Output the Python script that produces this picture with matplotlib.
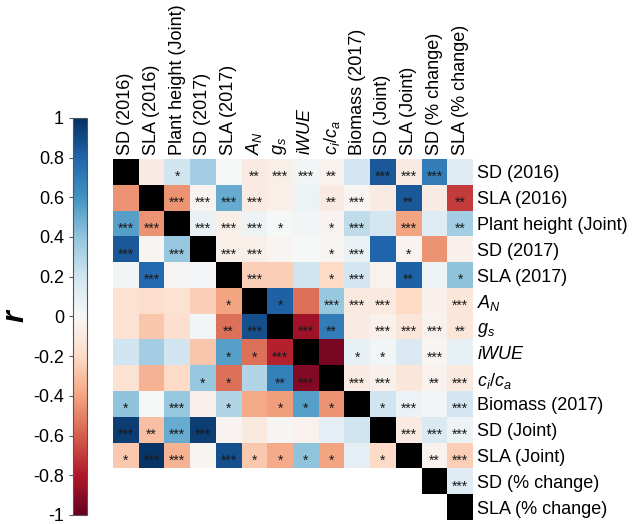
import numpy as np
import matplotlib
matplotlib.use('Agg')
import matplotlib.pyplot as plt
from matplotlib.colors import ListedColormap

plt.rcParams['font.family'] = ['Liberation Sans', 'DejaVu Sans']
plt.rcParams['mathtext.fontset'] = 'custom'
plt.rcParams['mathtext.rm'] = 'Liberation Sans'
plt.rcParams['mathtext.it'] = 'Liberation Sans:italic'
plt.rcParams['axes.unicode_minus'] = False

# trait names (rows and columns share the same order)
traits = ['SD (2016)', 'SLA (2016)', 'Plant height (Joint)', 'SD (2017)', 'SLA (2017)',
          r'$A_N$', r'$g_s$', r'$iWUE$', r'$c_i/c_a$', 'Biomass (2017)',
          'SD (Joint)', 'SLA (Joint)', 'SD (% change)', 'SLA (% change)']

nan = np.nan
# correlation coefficients, diagonal = 1 (drawn black), nan = empty cell
r_values = [
    [1, -0.08, 0.20, 0.35, 0.00, -0.08, -0.06, 0.03, -0.04, 0.18, 0.85, -0.08, 0.70, 0.12],
    [-0.45, 1, -0.45, -0.03, 0.50, -0.08, -0.06, 0.05, -0.08, -0.02, -0.08, 0.85, -0.08, -0.70],
    [0.55, -0.45, 1, 0.07, -0.06, 0.05, 0.00, 0.03, -0.03, 0.25, 0.18, -0.40, 0.12, 0.35],
    [0.85, -0.02, 0.38, 1, -0.06, -0.06, -0.02, 0.00, -0.02, 0.07, 0.80, -0.03, -0.45, -0.05],
    [0.03, 0.78, -0.01, 0.02, 1, -0.25, -0.25, 0.20, -0.20, 0.18, -0.04, 0.82, 0.05, 0.40],
    [-0.15, -0.18, -0.15, -0.25, -0.40, 1, 0.82, -0.55, 0.38, -0.10, -0.10, -0.20, -0.05, -0.12],
    [-0.15, -0.28, -0.17, 0.03, -0.55, 0.88, 1, -0.85, 0.70, -0.08, -0.05, -0.12, -0.04, -0.12],
    [0.20, 0.35, 0.20, -0.28, 0.55, -0.55, -0.78, 1, -0.95, 0.08, 0.03, 0.15, -0.02, 0.08],
    [-0.15, -0.35, -0.20, 0.38, -0.55, 0.30, 0.68, -0.92, 1, -0.08, -0.05, -0.12, -0.04, -0.10],
    [0.40, 0.00, 0.38, -0.05, 0.30, -0.38, -0.42, 0.55, -0.45, 1, 0.20, 0.06, 0.03, 0.18],
    [0.95, -0.30, 0.50, 0.95, -0.03, -0.10, -0.01, -0.04, 0.10, 0.20, 1, -0.08, 0.15, 0.05],
    [-0.27, 0.98, -0.35, -0.02, 0.88, -0.27, -0.38, 0.40, -0.40, 0.10, -0.20, 1, -0.04, -0.25],
    [nan, nan, nan, nan, nan, nan, nan, nan, nan, nan, nan, nan, 1, 0.12],
    [nan, nan, nan, nan, nan, nan, nan, nan, nan, nan, nan, nan, nan, 1],
]

# significance stars
stars = [
    ['', '', '*', '', '', '**', '***', '***', '**', '', '***', '***', '***', ''],
    ['', '', '***', '***', '***', '***', '', '', '**', '***', '', '**', '', '**'],
    ['***', '***', '', '***', '***', '***', '*', '', '*', '***', '', '***', '', '**'],
    ['***', '', '***', '', '***', '***', '', '', '*', '***', '', '*', '', ''],
    ['', '***', '', '', '', '***', '', '', '*', '***', '', '**', '', '*'],
    ['', '', '', '', '*', '', '*', '', '***', '***', '***', '', '', '***'],
    ['', '', '', '', '**', '***', '', '***', '**', '', '***', '***', '***', '**'],
    ['', '', '', '', '*', '*', '***', '', '', '*', '*', '', '***', ''],
    ['', '', '', '*', '*', '', '**', '***', '', '***', '***', '', '**', '***'],
    ['*', '', '***', '', '*', '', '*', '*', '*', '', '*', '***', '', '***'],
    ['***', '**', '***', '***', '', '', '', '', '', '', '', '***', '***', '***'],
    ['*', '***', '***', '', '***', '*', '*', '*', '*', '', '*', '', '**', '***'],
    ['', '', '', '', '', '', '', '', '', '', '', '', '', '***'],
    ['', '', '', '', '', '', '', '', '', '', '', '', '', ''],
]

r = np.array(r_values, dtype=float)
n = len(traits)
diag = np.eye(n, dtype=bool)
r_off = np.ma.masked_where(diag | np.isnan(r), r)
r_diag = np.ma.masked_where(~diag, np.ones_like(r))

fig = plt.figure(figsize=(6.33, 5.24), dpi=100)
ax = fig.add_axes([0.1785, 0.0076, 0.5687, 0.689])
cmap = plt.get_cmap('RdBu')
mesh = ax.pcolormesh(r_off, cmap=cmap, vmin=-1, vmax=1)
ax.pcolormesh(r_diag, cmap=ListedColormap(['black']), vmin=0, vmax=1)
ax.set_xlim(0, n)
ax.set_ylim(n, 0)

for i in range(n):
    for j in range(n):
        if stars[i][j]:
            ax.text(j + 0.5, i + 0.7, stars[i][j], ha='center', va='center',
                    fontsize=10, color='#1a1a1a')

ax.xaxis.tick_top()
ax.yaxis.tick_right()
ax.set_xticks(np.arange(n) + 0.5)
ax.set_yticks(np.arange(n) + 0.5)
ax.set_xticklabels(traits, rotation=90, fontsize=13)
ax.set_yticklabels(traits, fontsize=13)
ax.tick_params(length=0, pad=3)
for s in ax.spines.values():
    s.set_visible(False)

cax = fig.add_axes([0.1153, 0.0172, 0.0221, 0.758])
cb = fig.colorbar(mesh, cax=cax)
ticks = np.round(np.arange(-1, 1.01, 0.2), 1)
cb.set_ticks(ticks)
cb.set_ticklabels(['%g' % t if t != 0 else '0' for t in ticks])
cax.yaxis.set_ticks_position('left')
cax.yaxis.set_label_position('left')
cax.tick_params(labelsize=13, length=3, width=0.8, color='#555555')
cb.outline.set_edgecolor('#555555')
cb.outline.set_linewidth(0.8)
cb.set_label('r', fontsize=22, fontweight='bold', fontstyle='italic', labelpad=2)

fig.savefig('out.png', dpi=100)
